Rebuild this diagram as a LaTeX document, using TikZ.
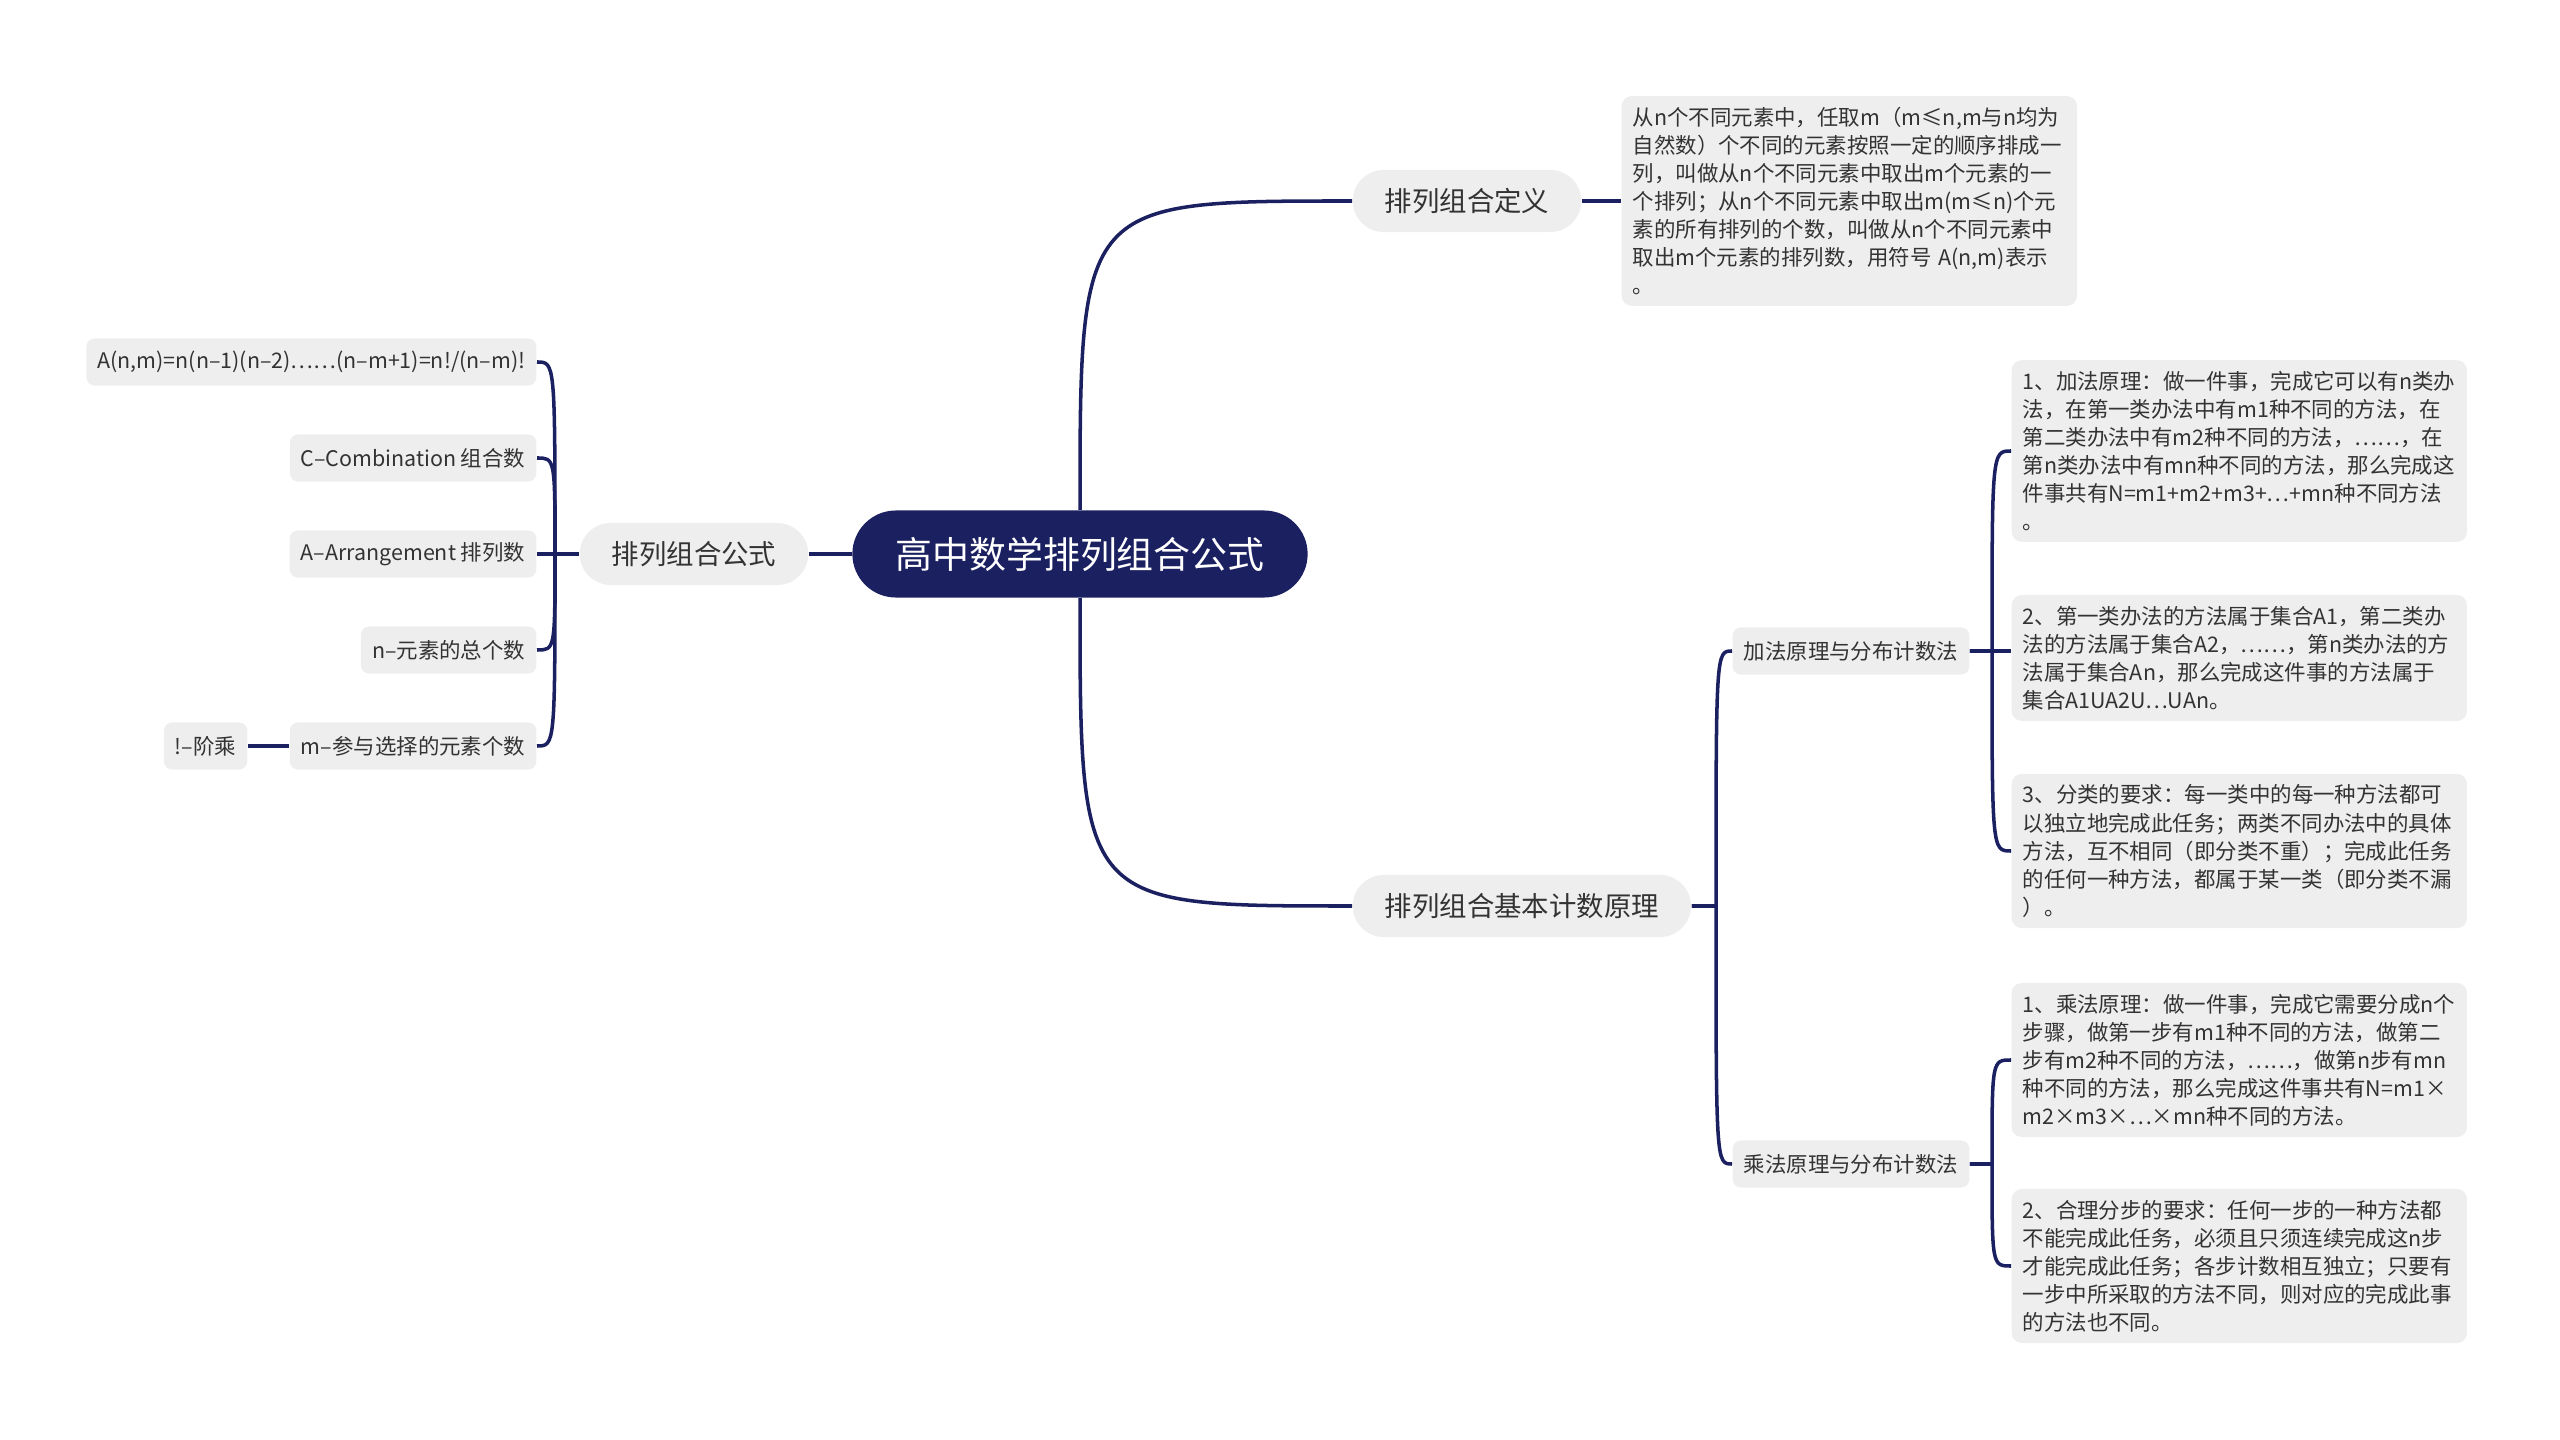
\documentclass[tikz,border=0pt]{standalone}
\usepackage{fontspec}
\setmainfont{Noto Sans CJK SC}
\usepackage{tikz}

\definecolor{navy}{HTML}{1B2060}
\definecolor{boxgray}{HTML}{EEEEEE}
\definecolor{ink}{HTML}{333333}

\begin{document}
\begin{tikzpicture}[x=0.01cm, y=-0.01cm,
    link/.style={draw=navy, line width=1pt},
    rootnode/.style={fill=navy, text=white, rounded corners=0.435cm, minimum height=0.87cm, inner xsep=0.43cm, font=\fontsize{10.5}{12}\selectfont},
    topic/.style={fill=boxgray, text=ink, rounded corners=0.31cm, minimum height=0.62cm, inner xsep=0.32cm, font=\fontsize{7.8}{9}\selectfont},
    sub/.style={fill=boxgray, text=ink, rounded corners=0.08cm, minimum height=0.47cm, inner xsep=0.11cm, font=\fontsize{6.1}{8}\selectfont},
    note/.style={fill=boxgray, text=ink, rounded corners=0.1cm, align=left, text width=4.33cm, inner xsep=0.11cm, inner ysep=0.11cm, font=\fontsize{6.1}{7.97}\selectfont}]
        \useasboundingbox (0,0) rectangle (2560,1440);

        \node [rootnode] (root) at (1080,554) {高中数学排列组合公式};

        \node [topic] (fml) at (694,554) {排列组合公式};
        \node [topic, anchor=west] (def) at (1352,201) {排列组合定义};
        \node [topic, anchor=west] (cnt) at (1352,906) {排列组合基本计数原理};

        % left side
        \node [sub, anchor=east] (fA)   at (537,362) {A(n,m)=n(n–1)(n–2)……(n–m+1)=n!/(n–m)!};
        \node [sub, anchor=east] (fC)   at (537,458) {C–Combination 组合数};
        \node [sub, anchor=east] (fArr) at (537,554) {A–Arrangement 排列数};
        \node [sub, anchor=east] (fn)   at (537,650) {n–元素的总个数};
        \node [sub, anchor=east] (fm)   at (537,746) {m–参与选择的元素个数};
        \node [sub, anchor=east] (fact) at (248,746) {!–阶乘};

        % right side
        \node [note, anchor=west] (defx) at (1621,201) {从n个不同元素中，任取m（m≤n,m与n均为\\自然数）个不同的元素按照一定的顺序排成一\\列，叫做从n个不同元素中取出m个元素的一\\个排列；从n个不同元素中取出m(m≤n)个元\\素的所有排列的个数，叫做从n个不同元素中\\取出m个元素的排列数，用符号 A(n,m)表示\\。};

        \node [sub, anchor=west] (add) at (1732,651) {加法原理与分布计数法};
        \node [sub, anchor=west] (mul) at (1732,1164) {乘法原理与分布计数法};

        \node [note, anchor=west] (add1) at (2011,451) {1、加法原理：做一件事，完成它可以有n类办\\法，在第一类办法中有m1种不同的方法，在\\第二类办法中有m2种不同的方法，……，在\\第n类办法中有mn种不同的方法，那么完成这\\件事共有N=m1+m2+m3+…+mn种不同方法\\。};
        \node [note, anchor=west] (add2) at (2011,658) {2、第一类办法的方法属于集合A1，第二类办\\法的方法属于集合A2，……，第n类办法的方\\法属于集合An，那么完成这件事的方法属于\\集合A1UA2U…UAn。};
        \node [note, anchor=west] (add3) at (2011,851) {3、分类的要求：每一类中的每一种方法都可\\以独立地完成此任务；两类不同办法中的具体\\方法，互不相同（即分类不重）；完成此任务\\的任何一种方法，都属于某一类（即分类不漏\\）。};
        \node [note, anchor=west] (mul1) at (2011,1060) {1、乘法原理：做一件事，完成它需要分成n个\\步骤，做第一步有m1种不同的方法，做第二\\步有m2种不同的方法，……，做第n步有mn\\种不同的方法，那么完成这件事共有N=m1×\\m2×m3×…×mn种不同的方法。};
        \node [note, anchor=west] (mul2) at (2011,1266) {2、合理分步的要求：任何一步的一种方法都\\不能完成此任务，必须且只须连续完成这n步\\才能完成此任务；各步计数相互独立；只要有\\一步中所采取的方法不同，则对应的完成此事\\的方法也不同。};

        \coordinate (ftrunk) at (555,554);
        \coordinate (ctrunk) at (1716,906);
        \coordinate (atrunk) at (1992,651);
        \coordinate (mtrunk) at (1992,1164);

        \draw [link] (root.west) -- (fml.east);
        \draw [link] (root.north) .. controls (root.north |- def.west) .. (def.west);
        \draw [link] (root.south) .. controls (root.south |- cnt.west) .. (cnt.west);

        \draw [link] (fml.west) -- (fArr.east);
        \foreach \leaf in {fA,fC,fn,fm}
            \draw [link] (fml.west) -- (ftrunk) .. controls (ftrunk |- \leaf.east) .. (\leaf.east);
        \draw [link] (fm.west) -- (fact.east);

        \draw [link] (def.east) -- (defx.west);

        \draw [link] (cnt.east) -- (ctrunk) .. controls (ctrunk |- add.west) .. (add.west);
        \draw [link] (cnt.east) -- (ctrunk) .. controls (ctrunk |- mul.west) .. (mul.west);

        \draw [link] (add.east) -- (add.east -| add2.west);
        \draw [link] (add.east) -- (atrunk) .. controls (atrunk |- add1.west) .. (add1.west);
        \draw [link] (add.east) -- (atrunk) .. controls (atrunk |- add3.west) .. (add3.west);

        \draw [link] (mul.east) -- (mtrunk) .. controls (mtrunk |- mul1.west) .. (mul1.west);
        \draw [link] (mul.east) -- (mtrunk) .. controls (mtrunk |- mul2.west) .. (mul2.west);
\end{tikzpicture}
\end{document}
